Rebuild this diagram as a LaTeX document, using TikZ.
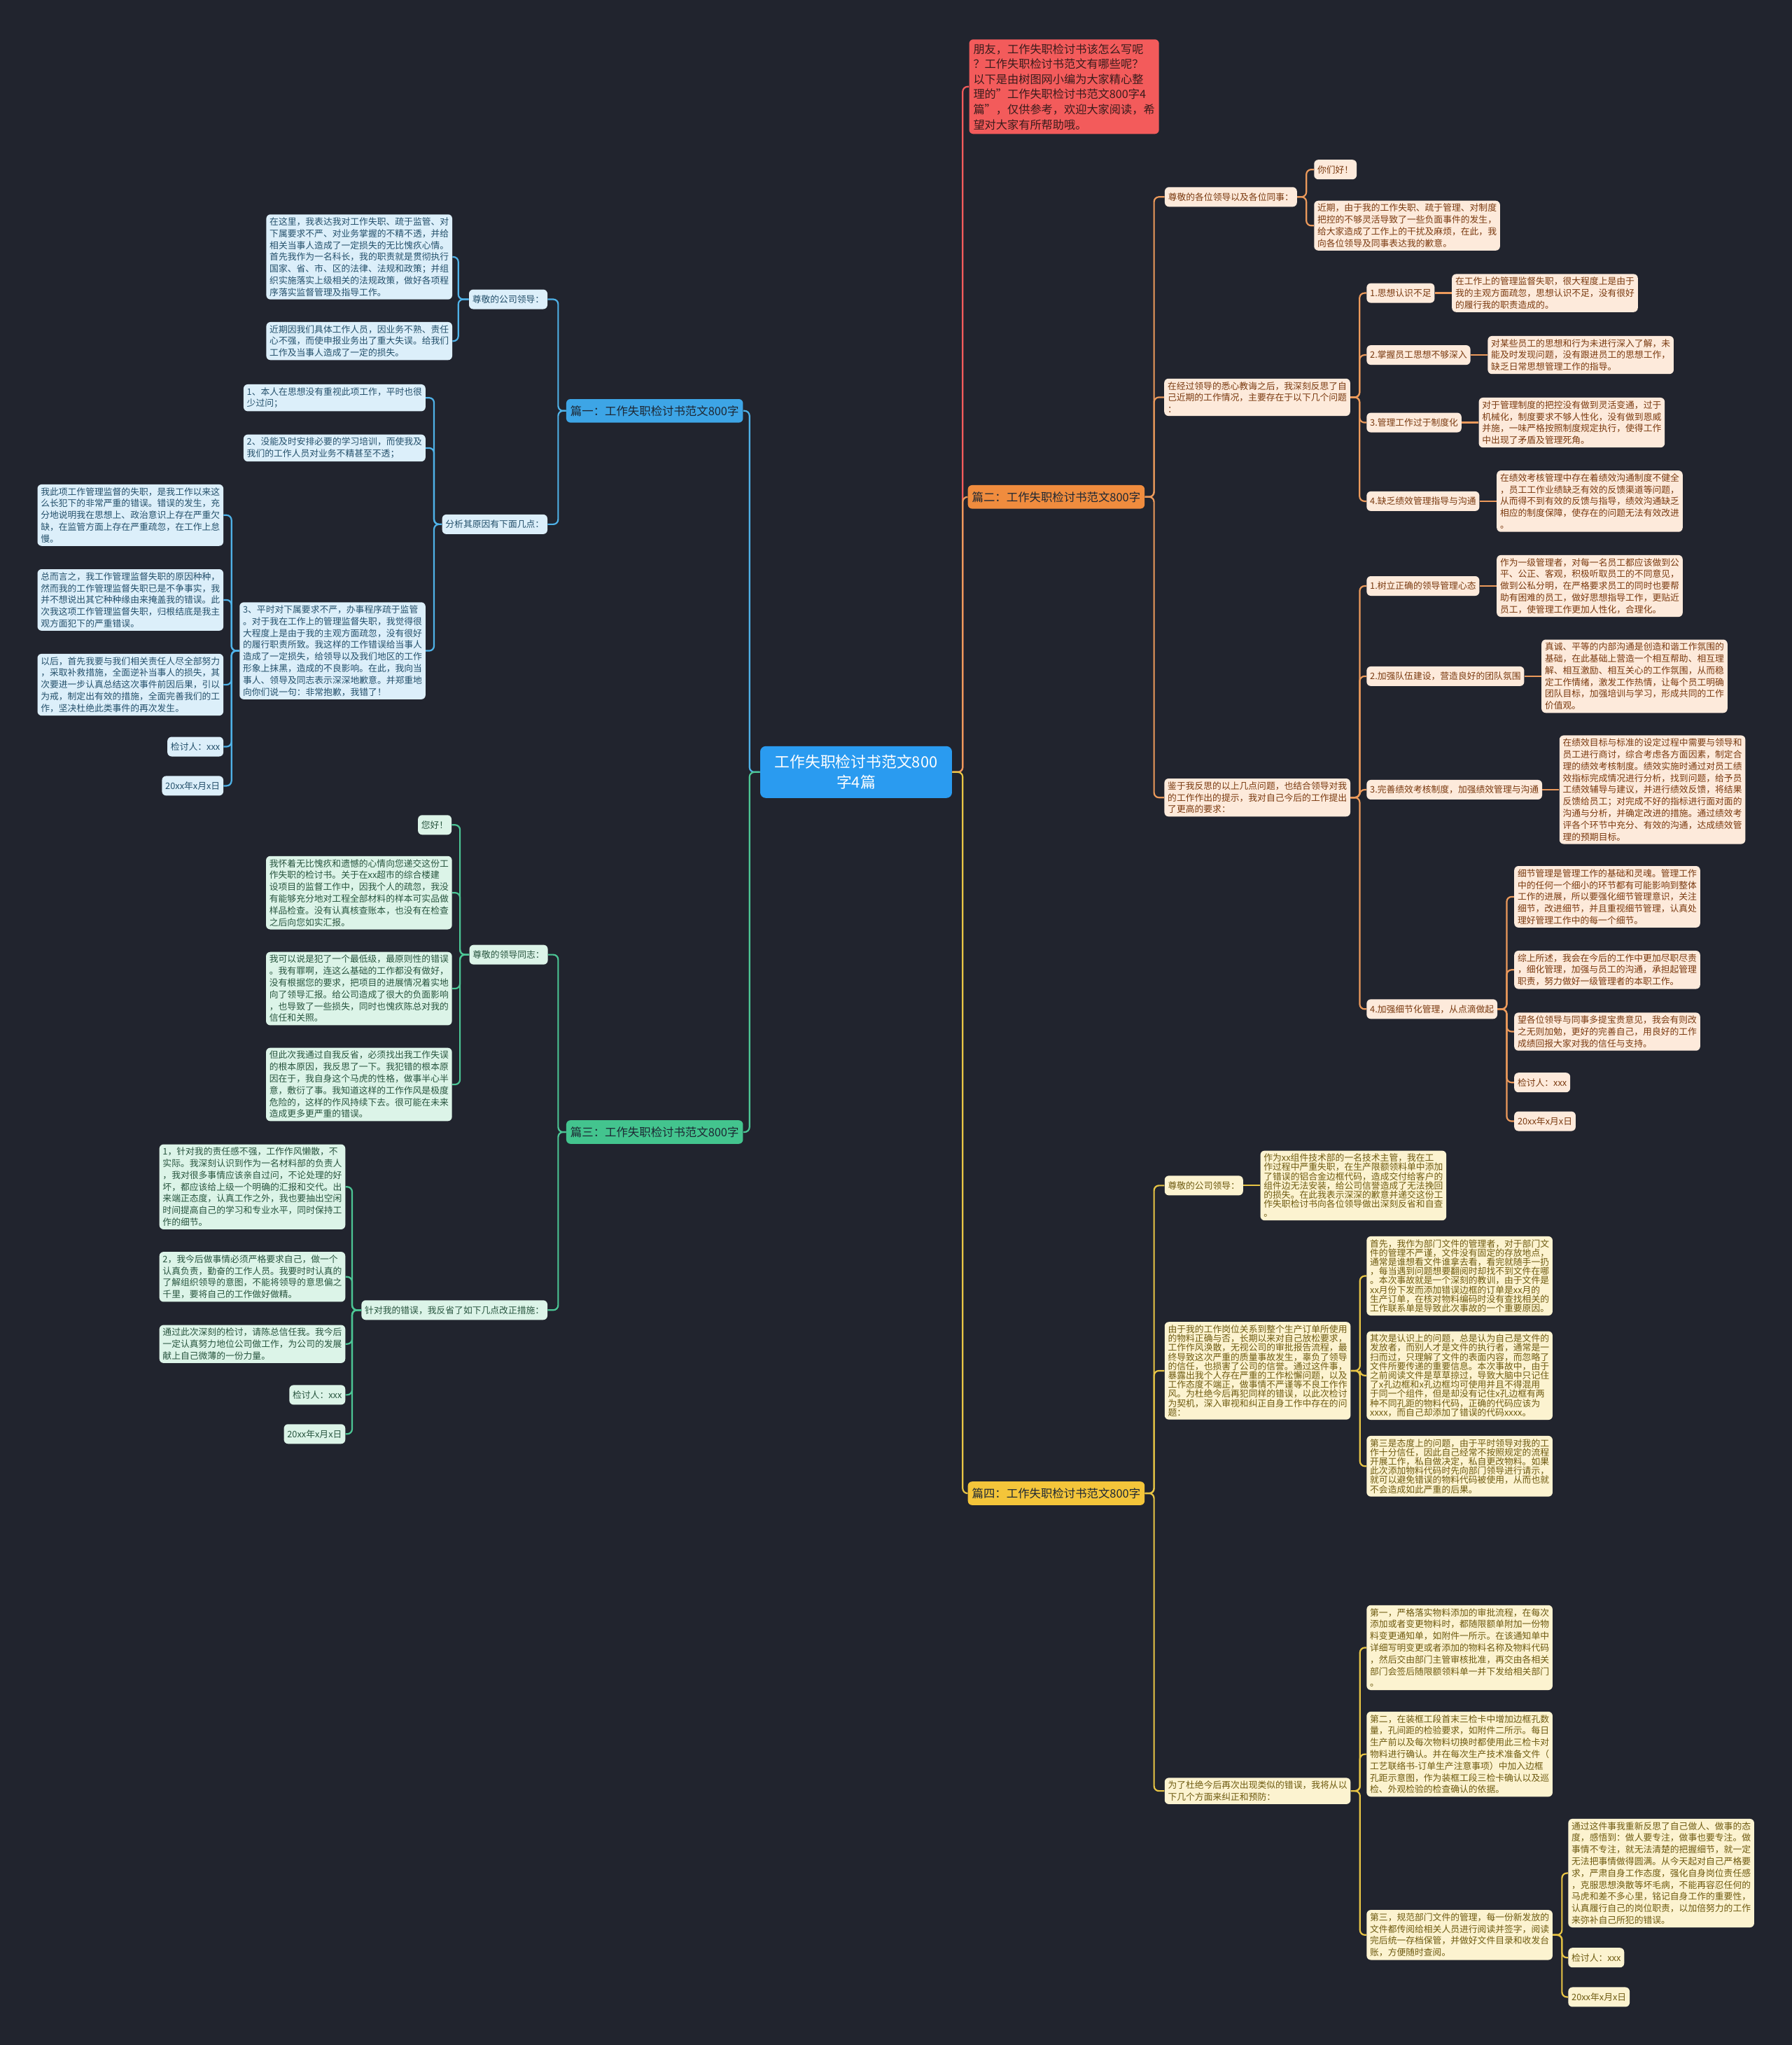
\documentclass[tikz,border=0pt]{standalone}
\usepackage{fontspec}
\setmainfont{Noto Sans CJK SC}
\usepackage{tikz}
\usepackage{xcolor}
\usetikzlibrary{positioning}
\definecolor{bgnavy}{HTML}{21242E}
\definecolor{rootblue}{HTML}{2A9BF0}
\definecolor{introred}{HTML}{F35B5B}
\definecolor{introtext}{HTML}{3A1C1C}
\definecolor{headtext}{HTML}{1D2733}
\definecolor{bluefill}{HTML}{3DA5E6}
\definecolor{blueleaffill}{HTML}{DCEFFA}
\definecolor{bluetext}{HTML}{24506B}
\definecolor{blueline}{HTML}{4FB2E8}
\definecolor{greenfill}{HTML}{43C48E}
\definecolor{greenleaffill}{HTML}{DCF4E8}
\definecolor{greentext}{HTML}{28553F}
\definecolor{greenline}{HTML}{4CC695}
\definecolor{orangefill}{HTML}{F08C3E}
\definecolor{orangeleaffill}{HTML}{FDEADB}
\definecolor{orangetext}{HTML}{7A3A10}
\definecolor{orangeline}{HTML}{EC9A5B}
\definecolor{yellowfill}{HTML}{F4C53A}
\definecolor{yellowleaffill}{HTML}{FCF3D0}
\definecolor{yellowtext}{HTML}{6E5A10}
\definecolor{yellowline}{HTML}{E8C545}
\tikzset{
  rootbox/.style={
    fill=rootblue,
    text=white,
    rounded corners=4pt,
    align=center,
    inner sep=3pt,
    minimum width=137pt,
    minimum height=37pt,
    font=\fontsize{10.9pt}{14.6pt}\selectfont
  },
  introbox/.style={
    fill=introred,
    text=introtext,
    rounded corners=3pt,
    align=left,
    inner xsep=3pt,
    inner ysep=3pt,
    font=\fontsize{8.1pt}{10.8pt}\selectfont
  },
  headbox/.style={
    rounded corners=3pt,
    text=headtext,
    inner xsep=3pt,
    minimum height=16.8pt,
    font=\fontsize{8.2pt}{9pt}\selectfont
  },
  leafbox/.style={
    rounded corners=3pt,
    align=left,
    inner xsep=2.4pt,
    inner ysep=2.2pt,
    minimum height=14pt,
    font=\fontsize{6.4pt}{8.4pt}\selectfont
  },
  bluehead/.style={headbox, fill=bluefill},
  blueleaf/.style={leafbox, fill=blueleaffill, text=bluetext},
  greenhead/.style={headbox, fill=greenfill},
  greenleaf/.style={leafbox, fill=greenleaffill, text=greentext},
  orangehead/.style={headbox, fill=orangefill},
  orangeleaf/.style={leafbox, fill=orangeleaffill, text=orangetext},
  yellowhead/.style={headbox, fill=yellowfill},
  yellowleaf/.style={leafbox, fill=yellowleaffill, text=yellowtext},
  yellowtight/.style={yellowleaf, font=\fontsize{6.4pt}{6.6pt}\selectfont},
  redlink/.style={draw=introred, line width=1.1pt, rounded corners=3.5pt},
  bluelink/.style={draw=blueline, line width=1.1pt, rounded corners=3.5pt},
  greenlink/.style={draw=greenline, line width=1.1pt, rounded corners=3.5pt},
  orangelink/.style={draw=orangeline, line width=1.1pt, rounded corners=3.5pt},
  yellowlink/.style={draw=yellowline, line width=1.1pt, rounded corners=3.5pt}
}

\begin{document}
\begin{tikzpicture}[x=0.9315pt, y=-0.9315pt]
\fill[bgnavy] (0,0) rectangle (1374,1568);

% centre and intro
\node[rootbox] (root) at (656.5,592) {工作失职检讨书范文800\\字4篇};
\node[introbox, anchor=north west] (intro) at (743,30) {朋友，工作失职检讨书该怎么写呢\\？工作失职检讨书范文有哪些呢？\\以下是由树图网小编为大家精心整\\理的"工作失职检讨书范文800字4\\篇"，仅供参考，欢迎大家阅读，希\\望对大家有所帮助哦。};

% essay one
\node[bluehead, anchor=east] (e1) at (570,315) {篇一：工作失职检讨书范文800字};
\node[blueleaf, anchor=east] (e1dear) at (420,229.5) {尊敬的公司领导：};
\node[blueleaf, anchor=east] (e1d1) at (347,197) {在这里，我表达我对工作失职、疏于监管、对\\下属要求不严、对业务掌握的不精不透，并给\\相关当事人造成了一定损失的无比愧疚心情。\\首先我作为一名科长，我的职责就是贯彻执行\\国家、省、市、区的法律、法规和政策；并组\\织实施落实上级相关的法规政策，做好各项程\\序落实监督管理及指导工作。};
\node[blueleaf, anchor=east] (e1d2) at (347,261.5) {近期因我们具体工作人员，因业务不熟、责任\\心不强，而使申报业务出了重大失误。给我们\\工作及当事人造成了一定的损失。};
\node[blueleaf, anchor=east] (e1why) at (420,402) {分析其原因有下面几点：};
\node[blueleaf, anchor=east] (e1w1) at (326.5,305) {1、本人在思想没有重视此项工作，平时也很\\少过问；};
\node[blueleaf, anchor=east] (e1w2) at (326.5,343.5) {2、没能及时安排必要的学习培训，而使我及\\我们的工作人员对业务不精甚至不透；};
\node[blueleaf, anchor=east] (e1w3) at (326.5,499) {3、平时对下属要求不严，办事程序疏于监管\\。对于我在工作上的管理监督失职，我觉得很\\大程度上是由于我的主观方面疏忽，没有很好\\的履行职责所致。我这样的工作错误给当事人\\造成了一定损失，给领导以及我们地区的工作\\形象上抹黑，造成的不良影响。在此，我向当\\事人、领导及同志表示深深地歉意。并郑重地\\向你们说一句：非常抱歉，我错了！};
\node[blueleaf, anchor=east] (e1c1) at (171.5,395) {我此项工作管理监督的失职，是我工作以来这\\么长犯下的非常严重的错误。错误的发生，充\\分地说明我在思想上、政治意识上存在严重欠\\缺，在监管方面上存在严重疏忽，在工作上怠\\慢。};
\node[blueleaf, anchor=east] (e1c2) at (171.5,460) {总而言之，我工作管理监督失职的原因种种，\\然而我的工作管理监督失职已是不争事实，我\\并不想说出其它种种缘由来掩盖我的错误。此\\次我这项工作管理监督失职，归根结底是我主\\观方面犯下的严重错误。};
\node[blueleaf, anchor=east] (e1c3) at (171.5,525) {以后，首先我要与我们相关责任人尽全部努力\\，采取补救措施，全面逆补当事人的损失，其\\次要进一步认真总结这次事件前因后果，引以\\为戒，制定出有效的措施，全面完善我们的工\\作，坚决杜绝此类事件的再次发生。};
\node[blueleaf, anchor=east] (e1sign) at (171.5,572.5) {检讨人：xxx};
\node[blueleaf, anchor=east] (e1date) at (171.5,602.5) {20xx年x月x日};

% essay three
\node[greenhead, anchor=east] (e3) at (570,868) {篇三：工作失职检讨书范文800字};
\node[greenleaf, anchor=east] (e3dear) at (420.3,732) {尊敬的领导同志：};
\node[greenleaf, anchor=east] (e3hi) at (346.5,632.5) {您好！};
\node[greenleaf, anchor=east] (e3d1) at (346.8,684.5) {我怀着无比愧疚和遗憾的心情向您递交这份工\\作失职的检讨书。关于在xx超市的综合楼建\\设项目的监督工作中，因我个人的疏忽，我没\\有能够充分地对工程全部材料的样本可实品做\\样品检查。没有认真核查账本，也没有在检查\\之后向您如实汇报。};
\node[greenleaf, anchor=east] (e3d2) at (346.8,758) {我可以说是犯了一个最低级，最原则性的错误\\。我有罪啊，连这么基础的工作都没有做好，\\没有根据您的要求，把项目的进展情况着实地\\向了领导汇报。给公司造成了很大的负面影响\\，也导致了一些损失，同时也愧疚陈总对我的\\信任和关照。};
\node[greenleaf, anchor=east] (e3d3) at (346.8,831.5) {但此次我通过自我反省，必须找出我工作失误\\的根本原因，我反思了一下。我犯错的根本原\\因在于，我自身这个马虎的性格，做事半心半\\意，敷衍了事。我知道这样的工作作风是极度\\危险的，这样的作风持续下去。很可能在未来\\造成更多更严重的错误。};
\node[greenleaf, anchor=east] (e3fix) at (420,1004.5) {针对我的错误，我反省了如下几点改正措施：};
\node[greenleaf, anchor=east] (e3f1) at (265,910) {1，针对我的责任感不强，工作作风懒散，不\\实际。我深刻认识到作为一名材料部的负责人\\，我对很多事情应该亲自过问，不论处理的好\\坏，都应该给上级一个明确的汇报和交代。出\\来端正态度，认真工作之外，我也要抽出空闲\\时间提高自己的学习和专业水平，同时保持工\\作的细节。};
\node[greenleaf, anchor=east] (e3f2) at (265,979) {2，我今后做事情必须严格要求自己，做一个\\认真负责，勤奋的工作人员。我要时时认真的\\了解组织领导的意图，不能将领导的意思偏之\\千里，要将自己的工作做好做精。};
\node[greenleaf, anchor=east] (e3f3) at (265,1030.5) {通过此次深刻的检讨，请陈总信任我。我今后\\一定认真努力地位公司做工作，为公司的发展\\献上自己微薄的一份力量。};
\node[greenleaf, anchor=east] (e3sign) at (265,1069.5) {检讨人：xxx};
\node[greenleaf, anchor=east] (e3date) at (265,1099.5) {20xx年x月x日};

% essay two
\node[orangehead, anchor=west] (e2) at (742,381) {篇二：工作失职检讨书范文800字};
\node[orangeleaf, anchor=west] (e2dear) at (893,151) {尊敬的各位领导以及各位同事：};
\node[orangeleaf, anchor=west] (e2hi) at (1007.5,130) {你们好！};
\node[orangeleaf, anchor=west] (e2d1) at (1007.5,173) {近期，由于我的工作失职、疏于管理、对制度\\把控的不够灵活导致了一些负面事件的发生，\\给大家造成了工作上的干扰及麻烦，在此，我\\向各位领导及同事表达我的歉意。};
\node[orangeleaf, anchor=west] (e2look) at (892.6,304.6) {在经过领导的悉心教诲之后，我深刻反思了自\\己近期的工作情况，主要存在于以下几个问题\\：};
\node[orangeleaf, anchor=west] (e2p1) at (1047.8,224.7) {1.思想认识不足};
\node[orangeleaf, right=12pt of e2p1] (e2p1t) {在工作上的管理监督失职，很大程度上是由于\\我的主观方面疏忽，思想认识不足，没有很好\\的履行我的职责造成的。};
\node[orangeleaf, anchor=west] (e2p2) at (1047.8,272.2) {2.掌握员工思想不够深入};
\node[orangeleaf, right=12pt of e2p2] (e2p2t) {对某些员工的思想和行为未进行深入了解，未\\能及时发现问题，没有跟进员工的思想工作，\\缺乏日常思想管理工作的指导。};
\node[orangeleaf, anchor=west] (e2p3) at (1047.8,324) {3.管理工作过于制度化};
\node[orangeleaf, right=12pt of e2p3] (e2p3t) {对于管理制度的把控没有做到灵活变通，过于\\机械化，制度要求不够人性化，没有做到恩威\\并施，一味严格按照制度规定执行，使得工作\\中出现了矛盾及管理死角。};
\node[orangeleaf, anchor=west] (e2p4) at (1047.8,384.3) {4.缺乏绩效管理指导与沟通};
\node[orangeleaf, right=12pt of e2p4] (e2p4t) {在绩效考核管理中存在着绩效沟通制度不健全\\，员工工作业绩缺乏有效的反馈渠道等问题，\\从而得不到有效的反馈与指导，绩效沟通缺乏\\相应的制度保障，使存在的问题无法有效改进\\。};
\node[orangeleaf, anchor=west] (e2plan) at (892.7,611.5) {鉴于我反思的以上几点问题，也结合领导对我\\的工作作出的提示，我对自己今后的工作提出\\了更高的要求：};
\node[orangeleaf, anchor=west] (e2q1) at (1047.8,449.3) {1.树立正确的领导管理心态};
\node[orangeleaf, right=12pt of e2q1] (e2q1t) {作为一级管理者，对每一名员工都应该做到公\\平、公正、客观，积极听取员工的不同意见，\\做到公私分明，在严格要求员工的同时也要帮\\助有困难的员工，做好思想指导工作，更贴近\\员工，使管理工作更加人性化，合理化。};
\node[orangeleaf, anchor=west] (e2q2) at (1047.8,518.5) {2.加强队伍建设，营造良好的团队氛围};
\node[orangeleaf, right=12pt of e2q2] (e2q2t) {真诚、平等的内部沟通是创造和谐工作氛围的\\基础，在此基础上营造一个相互帮助、相互理\\解、相互激励、相互关心的工作氛围，从而稳\\定工作情绪，激发工作热情，让每个员工明确\\团队目标，加强培训与学习，形成共同的工作\\价值观。};
\node[orangeleaf, anchor=west] (e2q3) at (1047.8,605.5) {3.完善绩效考核制度，加强绩效管理与沟通};
\node[orangeleaf, right=12pt of e2q3] (e2q3t) {在绩效目标与标准的设定过程中需要与领导和\\员工进行商讨，综合考虑各方面因素，制定合\\理的绩效考核制度。绩效实施时通过对员工绩\\效指标完成情况进行分析，找到问题，给予员\\工绩效辅导与建议，并进行绩效反馈，将结果\\反馈给员工；对完成不好的指标进行面对面的\\沟通与分析，并确定改进的措施。通过绩效考\\评各个环节中充分、有效的沟通，达成绩效管\\理的预期目标。};
\node[orangeleaf, anchor=west] (e2q4) at (1047.8,773.7) {4.加强细节化管理，从点滴做起};
\node[orangeleaf, anchor=west] (e2q4a) at (1161,687.6) {细节管理是管理工作的基础和灵魂。管理工作\\中的任何一个细小的环节都有可能影响到整体\\工作的进展，所以要强化细节管理意识，关注\\细节，改进细节，并且重视细节管理，认真处\\理好管理工作中的每一个细节。};
\node[orangeleaf, anchor=west] (e2q4b) at (1161,743.6) {综上所述，我会在今后的工作中更加尽职尽责\\，细化管理，加强与员工的沟通，承担起管理\\职责，努力做好一级管理者的本职工作。};
\node[orangeleaf, anchor=west] (e2q4c) at (1161,791) {望各位领导与同事多提宝贵意见，我会有则改\\之无则加勉，更好的完善自己，用良好的工作\\成绩回报大家对我的信任与支持。};
\node[orangeleaf, anchor=west] (e2sign) at (1161,830) {检讨人：xxx};
\node[orangeleaf, anchor=west] (e2date) at (1161,859.7) {20xx年x月x日};

% essay four
\node[yellowhead, anchor=west] (e4) at (742,1145) {篇四：工作失职检讨书范文800字};
\node[yellowleaf, anchor=west] (e4dear) at (892.9,909) {尊敬的公司领导：};
\node[yellowtight, right=12pt of e4dear] (e4d1) {作为xx组件技术部的一名技术主管，我在工\\作过程中严重失职，在生产限额领料单中添加\\了错误的铝合金边框代码，造成交付给客户的\\组件边无法安装，给公司信誉造成了无法挽回\\的损失。在此我表示深深的歉意并递交这份工\\作失职检讨书向各位领导做出深刻反省和自查\\。};
\node[yellowtight, anchor=west] (e4why) at (892.9,1051) {由于我的工作岗位关系到整个生产订单所使用\\的物料正确与否，长期以来对自己放松要求，\\工作作风涣散，无视公司的审批报告流程，最\\终导致这次严重的质量事故发生，辜负了领导\\的信任，也损害了公司的信誉。通过这件事，\\暴露出我个人存在严重的工作松懈问题，以及\\工作态度不端正，做事情不严谨等不良工作作\\风。为杜绝今后再犯同样的错误，以此次检讨\\为契机，深入审视和纠正自身工作中存在的问\\题：};
\node[yellowtight, anchor=west] (e4w1) at (1047.8,978.3) {首先，我作为部门文件的管理者，对于部门文\\件的管理不严谨，文件没有固定的存放地点，\\通常是谁想看文件谁拿去看，看完就随手一扔\\，每当遇到问题想要翻阅时却找不到文件在哪\\。本次事故就是一个深刻的教训，由于文件是\\xx月份下发而添加错误边框的订单是xx月的\\生产订单，在核对物料编码时没有查找相关的\\工作联系单是导致此次事故的一个重要原因。};
\node[yellowtight, anchor=west] (e4w2) at (1047.8,1054.7) {其次是认识上的问题，总是认为自己是文件的\\发放者，而别人才是文件的执行者，通常是一\\扫而过，只理解了文件的表面内容，而忽略了\\文件所要传递的重要信息。本次事故中，由于\\之前阅读文件是草草掠过，导致大脑中只记住\\了x孔边框和x孔边框均可使用并且不得混用\\于同一个组件，但是却没有记住x孔边框有两\\种不同孔距的物料代码，正确的代码应该为\\xxxx，而自己却添加了错误的代码xxxx。};
\node[yellowtight, anchor=west] (e4w3) at (1047.8,1124.2) {第三是态度上的问题，由于平时领导对我的工\\作十分信任，因此自己经常不按照规定的流程\\开展工作，私自做决定，私自更改物料。如果\\此次添加物料代码时先向部门领导进行请示，\\就可以避免错误的物料代码被使用，从而也就\\不会造成如此严重的后果。};
\node[yellowleaf, anchor=west] (e4fix) at (892.9,1373.2) {为了杜绝今后再次出现类似的错误，我将从以\\下几个方面来纠正和预防：};
\node[yellowleaf, anchor=west] (e4f1) at (1047.8,1263.3) {第一，严格落实物料添加的审批流程，在每次\\添加或者变更物料时，都随限额单附加一份物\\料变更通知单，如附件一所示。在该通知单中\\详细写明变更或者添加的物料名称及物料代码\\，然后交由部门主管审核批准，再交由各相关\\部门会签后随限额领料单一并下发给相关部门\\。};
\node[yellowleaf, anchor=west] (e4f2) at (1047.8,1345) {第二，在装框工段首末三检卡中增加边框孔数\\量，孔间距的检验要求，如附件二所示。每日\\生产前以及每次物料切换时都使用此三检卡对\\物料进行确认。并在每次生产技术准备文件（\\工艺联络书-订单生产注意事项）中加入边框\\孔距示意图，作为装框工段三检卡确认以及巡\\检、外观检验的检查确认的依据。};
\node[yellowleaf, anchor=west] (e4f3) at (1047.8,1483.6) {第三，规范部门文件的管理，每一份新发放的\\文件都传阅给相关人员进行阅读并签字，阅读\\完后统一存档保管，并做好文件目录和收发台\\账，方便随时查阅。};
\node[yellowleaf, anchor=west] (e4end) at (1202.4,1436.2) {通过这件事我重新反思了自己做人、做事的态\\度，感悟到：做人要专注，做事也要专注。做\\事情不专注，就无法清楚的把握细节，就一定\\无法把事情做得圆满。从今天起对自己严格要\\求，严肃自身工作态度，强化自身岗位责任感\\，克服思想涣散等坏毛病，不能再容忍任何的\\马虎和差不多心里，铭记自身工作的重要性，\\认真履行自己的岗位职责，以加倍努力的工作\\来弥补自己所犯的错误。};
\node[yellowleaf, anchor=west] (e4sign) at (1202.4,1501) {检讨人：xxx};
\node[yellowleaf, anchor=west] (e4date) at (1202.4,1531.2) {20xx年x月x日};

% connectors
\draw[bluelink] (root.west) -- ++(-8,0) |- (e1.east);
\draw[greenlink] (root.west) -- ++(-8,0) |- (e3.east);
\draw[redlink] (root.east) -- ++(8,0) |- (intro.west);
\draw[orangelink] (root.east) -- ++(8,0) |- (e2.west);
\draw[yellowlink] (root.east) -- ++(8,0) |- (e4.west);

\draw[bluelink] (e1.west) -- ++(-6,0) |- (e1dear.east);
\draw[bluelink] (e1.west) -- ++(-6,0) |- (e1why.east);
\draw[bluelink] (e1dear.west) -- ++(-8,0) |- (e1d1.east);
\draw[bluelink] (e1dear.west) -- ++(-8,0) |- (e1d2.east);
\draw[bluelink] (e1why.west) -- ++(-6,0) |- (e1w1.east);
\draw[bluelink] (e1why.west) -- ++(-6,0) |- (e1w2.east);
\draw[bluelink] (e1why.west) -- ++(-6,0) |- (e1w3.east);
\draw[bluelink] (e1w3.west) -- ++(-6,0) |- (e1c1.east);
\draw[bluelink] (e1w3.west) -- ++(-6,0) |- (e1c2.east);
\draw[bluelink] (e1w3.west) -- ++(-6,0) |- (e1c3.east);
\draw[bluelink] (e1w3.west) -- ++(-6,0) |- (e1sign.east);
\draw[bluelink] (e1w3.west) -- ++(-6,0) |- (e1date.east);

\draw[greenlink] (e3.west) -- ++(-6,0) |- (e3dear.east);
\draw[greenlink] (e3.west) -- ++(-6,0) |- (e3fix.east);
\draw[greenlink] (e3dear.west) -- ++(-7,0) |- (e3hi.east);
\draw[greenlink] (e3dear.west) -- ++(-7,0) |- (e3d1.east);
\draw[greenlink] (e3dear.west) -- ++(-7,0) |- (e3d2.east);
\draw[greenlink] (e3dear.west) -- ++(-7,0) |- (e3d3.east);
\draw[greenlink] (e3fix.west) -- ++(-7,0) |- (e3f1.east);
\draw[greenlink] (e3fix.west) -- ++(-7,0) |- (e3f2.east);
\draw[greenlink] (e3fix.west) -- ++(-7,0) |- (e3f3.east);
\draw[greenlink] (e3fix.west) -- ++(-7,0) |- (e3sign.east);
\draw[greenlink] (e3fix.west) -- ++(-7,0) |- (e3date.east);

\draw[orangelink] (e2.east) -- ++(7,0) |- (e2dear.west);
\draw[orangelink] (e2.east) -- ++(7,0) |- (e2look.west);
\draw[orangelink] (e2.east) -- ++(7,0) |- (e2plan.west);
\draw[orangelink] (e2dear.east) -- ++(7,0) |- (e2hi.west);
\draw[orangelink] (e2dear.east) -- ++(7,0) |- (e2d1.west);
\draw[orangelink] (e2look.east) -- ++(7,0) |- (e2p1.west);
\draw[orangelink] (e2look.east) -- ++(7,0) |- (e2p2.west);
\draw[orangelink] (e2look.east) -- ++(7,0) |- (e2p3.west);
\draw[orangelink] (e2look.east) -- ++(7,0) |- (e2p4.west);
\draw[orangelink] (e2p1) -- (e2p1t);
\draw[orangelink] (e2p2) -- (e2p2t);
\draw[orangelink] (e2p3) -- (e2p3t);
\draw[orangelink] (e2p4) -- (e2p4t);
\draw[orangelink] (e2plan.east) -- ++(7,0) |- (e2q1.west);
\draw[orangelink] (e2plan.east) -- ++(7,0) |- (e2q2.west);
\draw[orangelink] (e2plan.east) -- ++(7,0) |- (e2q3.west);
\draw[orangelink] (e2plan.east) -- ++(7,0) |- (e2q4.west);
\draw[orangelink] (e2q1) -- (e2q1t);
\draw[orangelink] (e2q2) -- (e2q2t);
\draw[orangelink] (e2q3) -- (e2q3t);
\draw[orangelink] (e2q4.east) -- ++(7,0) |- (e2q4a.west);
\draw[orangelink] (e2q4.east) -- ++(7,0) |- (e2q4b.west);
\draw[orangelink] (e2q4.east) -- ++(7,0) |- (e2q4c.west);
\draw[orangelink] (e2q4.east) -- ++(7,0) |- (e2sign.west);
\draw[orangelink] (e2q4.east) -- ++(7,0) |- (e2date.west);

\draw[yellowlink] (e4.east) -- ++(7,0) |- (e4dear.west);
\draw[yellowlink] (e4.east) -- ++(7,0) |- (e4why.west);
\draw[yellowlink] (e4.east) -- ++(7,0) |- (e4fix.west);
\draw[yellowlink] (e4dear) -- (e4d1);
\draw[yellowlink] (e4why.east) -- ++(7,0) |- (e4w1.west);
\draw[yellowlink] (e4why.east) -- ++(7,0) |- (e4w2.west);
\draw[yellowlink] (e4why.east) -- ++(7,0) |- (e4w3.west);
\draw[yellowlink] (e4fix.east) -- ++(7,0) |- (e4f1.west);
\draw[yellowlink] (e4fix.east) -- ++(7,0) |- (e4f2.west);
\draw[yellowlink] (e4fix.east) -- ++(7,0) |- (e4f3.west);
\draw[yellowlink] (e4f3.east) -- ++(7,0) |- (e4end.west);
\draw[yellowlink] (e4f3.east) -- ++(7,0) |- (e4sign.west);
\draw[yellowlink] (e4f3.east) -- ++(7,0) |- (e4date.west);
\end{tikzpicture}
\end{document}
